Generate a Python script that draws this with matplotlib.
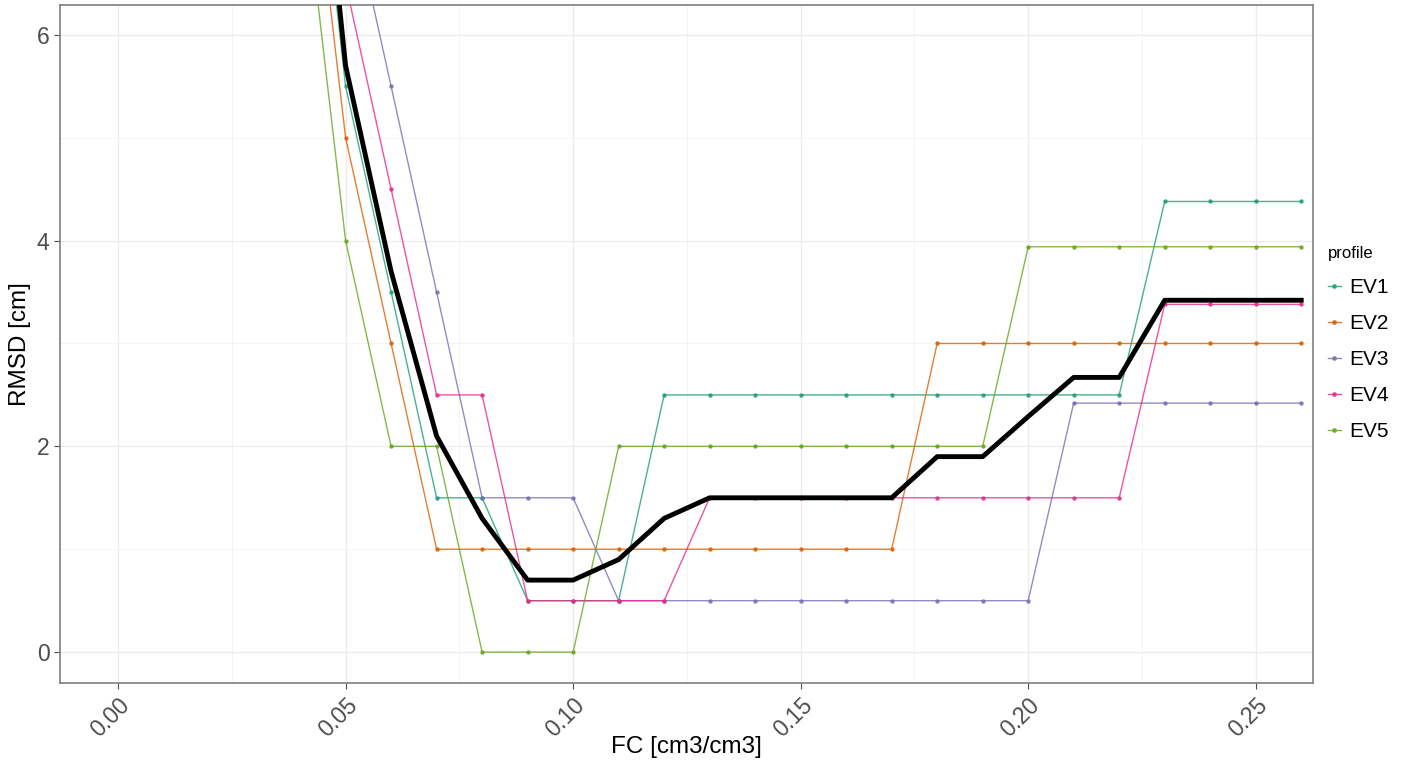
import matplotlib.pyplot as plt
import numpy as np

plt.rcParams["font.family"] = ["Liberation Sans", "DejaVu Sans"]

# FC values (x) and RMSD per profile
fc = [0.04, 0.05, 0.06, 0.07, 0.08, 0.09, 0.10, 0.11, 0.12, 0.13, 0.14, 0.15,
      0.16, 0.17, 0.18, 0.19, 0.20, 0.21, 0.22, 0.23, 0.24, 0.25, 0.26]

ev1 = [9.5, 5.5, 3.5, 1.5, 1.5, 0.5, 0.5, 0.5, 2.5, 2.5, 2.5, 2.5,
       2.5, 2.5, 2.5, 2.5, 2.5, 2.5, 2.5, 4.38, 4.38, 4.38, 4.38]
ev2 = [8.8, 5.0, 3.0, 1.0, 1.0, 1.0, 1.0, 1.0, 1.0, 1.0, 1.0, 1.0,
       1.0, 1.0, 3.0, 3.0, 3.0, 3.0, 3.0, 3.0, 3.0, 3.0, 3.0]
ev3 = [11.5, 7.5, 5.5, 3.5, 1.5, 1.5, 1.5, 0.5, 0.5, 0.5, 0.5, 0.5,
       0.5, 0.5, 0.5, 0.5, 0.5, 2.42, 2.42, 2.42, 2.42, 2.42, 2.42]
ev4 = [12.4, 6.5, 4.5, 2.5, 2.5, 0.5, 0.5, 0.5, 0.5, 1.5, 1.5, 1.5,
       1.5, 1.5, 1.5, 1.5, 1.5, 1.5, 1.5, 3.38, 3.38, 3.38, 3.38]
ev5 = [7.8, 4.0, 2.0, 2.0, 0.0, 0.0, 0.0, 2.0, 2.0, 2.0, 2.0, 2.0,
       2.0, 2.0, 2.0, 2.0, 3.94, 3.94, 3.94, 3.94, 3.94, 3.94, 3.94]
# mean over the profiles
mean_rmsd = [10.0, 5.7, 3.7, 2.1, 1.3, 0.7, 0.7, 0.9, 1.3, 1.5, 1.5, 1.5,
             1.5, 1.5, 1.9, 1.9, 2.29, 2.67, 2.67, 3.42, 3.42, 3.42, 3.42]

profiles = ["EV1", "EV2", "EV3", "EV4", "EV5"]
series = [ev1, ev2, ev3, ev4, ev5]
colors = ["#1B9E77", "#D95F02", "#7570B3", "#E7298A", "#66A61E"]

fig = plt.figure(figsize=(14.06, 7.65), dpi=100)
ax = fig.add_axes([0.0427, 0.1072, 0.8912, 0.8863])

for name, vals, col in zip(profiles, series, colors):
    ax.plot(fc, vals, color=col, lw=1.0, alpha=0.8, marker="o", ms=2.2,
            label=name, zorder=3)
ax.plot(fc, mean_rmsd, color="black", lw=3.5, zorder=4)

ax.set_xlim(-0.01275, 0.2626)
ax.set_ylim(-0.30, 6.29)
ax.set_xticks([0.00, 0.05, 0.10, 0.15, 0.20, 0.25])
ax.set_xticklabels(["0.00", "0.05", "0.10", "0.15", "0.20", "0.25"],
                   rotation=45, ha="right", rotation_mode="anchor")
ax.set_yticks([0, 2, 4, 6])
ax.set_xticks(np.arange(0.025, 0.26, 0.05), minor=True)
ax.set_yticks([1, 3, 5], minor=True)
ax.grid(which="major", color="#EBEBEB", lw=0.9)
ax.grid(which="minor", color="#F2F2F2", lw=0.6)
ax.set_axisbelow(True)
ax.tick_params(which="major", length=4, color="#4D4D4D", labelsize=16.5,
               labelcolor="#4D4D4D")
ax.tick_params(which="minor", length=0)
for s in ax.spines.values():
    s.set_color("#7F7F7F")
    s.set_linewidth(1.2)

ax.set_xlabel("FC [cm3/cm3]", fontsize=17.5, labelpad=-4)
ax.set_ylabel("RMSD [cm]", fontsize=17.5, labelpad=4)

leg = fig.legend(handles=ax.get_lines()[:5], title="profile", loc="upper left",
                 bbox_to_anchor=(1328 / 1406, 1 - 246 / 765), frameon=False,
                 fontsize=15, title_fontsize=12, handlelength=0.6,
                 handletextpad=0.4, labelspacing=0.82, borderpad=0,
                 borderaxespad=0, markerscale=1.1)
leg._legend_box.align = "left"

fig.savefig("out.png", dpi=100)
